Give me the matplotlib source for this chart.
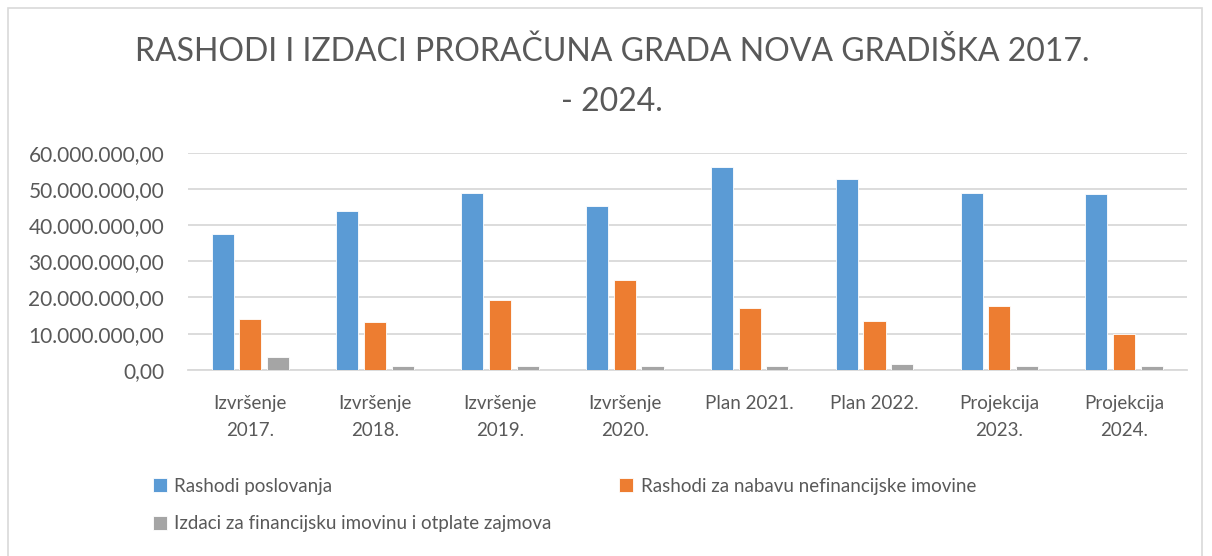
import numpy as np
import matplotlib.pyplot as plt
from matplotlib.patches import Rectangle

# category labels and the three series (in kuna)
categories = ['Izvršenje\n2017.', 'Izvršenje\n2018.', 'Izvršenje\n2019.', 'Izvršenje\n2020.',
              'Plan 2021.', 'Plan 2022.', 'Projekcija\n2023.', 'Projekcija\n2024.']
rashodi_poslovanja = [37.6e6, 43.8e6, 49.0e6, 45.3e6, 56.1e6, 52.7e6, 48.8e6, 48.6e6]
rashodi_nefin = [14.0e6, 13.1e6, 19.3e6, 24.9e6, 17.2e6, 13.5e6, 17.7e6, 9.8e6]
izdaci_fin = [3.6e6, 1.0e6, 1.0e6, 1.0e6, 1.0e6, 1.7e6, 1.0e6, 1.0e6]
series_names = ['Rashodi poslovanja', 'Rashodi za nabavu nefinancijske imovine',
                'Izdaci za financijsku imovinu i otplate zajmova']

txt = '#595959'
plt.rcParams['font.family'] = ['Lato', 'DejaVu Sans']

fig = plt.figure(figsize=(12.12, 5.56), dpi=100)
ax = fig.add_axes([0.155, 0.335, 0.824, 0.39])

# outer chart border like Excel
fig.patches.append(Rectangle((0.007, -0.01), 0.985, 0.995, transform=fig.transFigure,
                             fill=False, edgecolor='#d9d9d9', linewidth=1.2))

x = np.arange(len(categories))
w = 0.177
step = 0.222
colors = ['#5B9BD5', '#ED7D31', '#A5A5A5']
bars = []
for i, vals in enumerate([rashodi_poslovanja, rashodi_nefin, izdaci_fin]):
    b = ax.bar(x + (i - 1) * step, vals, width=w, color=colors[i], edgecolor='white',
               linewidth=0.6, label=series_names[i], zorder=3)
    bars.append(b)

yt = np.arange(0, 60e6 + 1, 10e6)
ax.set_xlim(-0.5, len(categories) - 0.5)
ax.set_ylim(0, 60e6)
ax.set_yticks(yt)
ax.set_yticklabels([f'{int(v):,}'.replace(',', '.') + ',00' for v in yt])
ax.set_xticks(x)
ax.set_xticklabels(categories, linespacing=1.7)
ax.tick_params(axis='both', length=0, colors=txt)
ax.tick_params(axis='x', labelsize=13.5, pad=18)
ax.tick_params(axis='y', labelsize=15, pad=17)

ax.grid(axis='y', color='#d9d9d9', linewidth=1.3, zorder=0)
for s in ['top', 'right', 'left']:
    ax.spines[s].set_visible(False)
ax.spines['bottom'].set_color('#d9d9d9')
ax.spines['bottom'].set_linewidth(1.3)

fig.text(0.505, 0.862, 'RASHODI I IZDACI PRORAČUNA GRADA NOVA GRADIŠKA 2017.\n- 2024.',
         ha='center', va='center', fontsize=23, color=txt, linespacing=1.8)

h = [bars[0], bars[2], bars[1]]
l = [series_names[0], series_names[2], series_names[1]]
fig.legend(h, l, loc='upper left', bbox_to_anchor=(0.112, 0.171), ncol=2, frameon=False,
           fontsize=13.5, labelcolor=txt, handlelength=0.75, handleheight=0.75,
           handletextpad=0.4, columnspacing=3.6, labelspacing=1.1)

plt.savefig('out.png', dpi=100)
